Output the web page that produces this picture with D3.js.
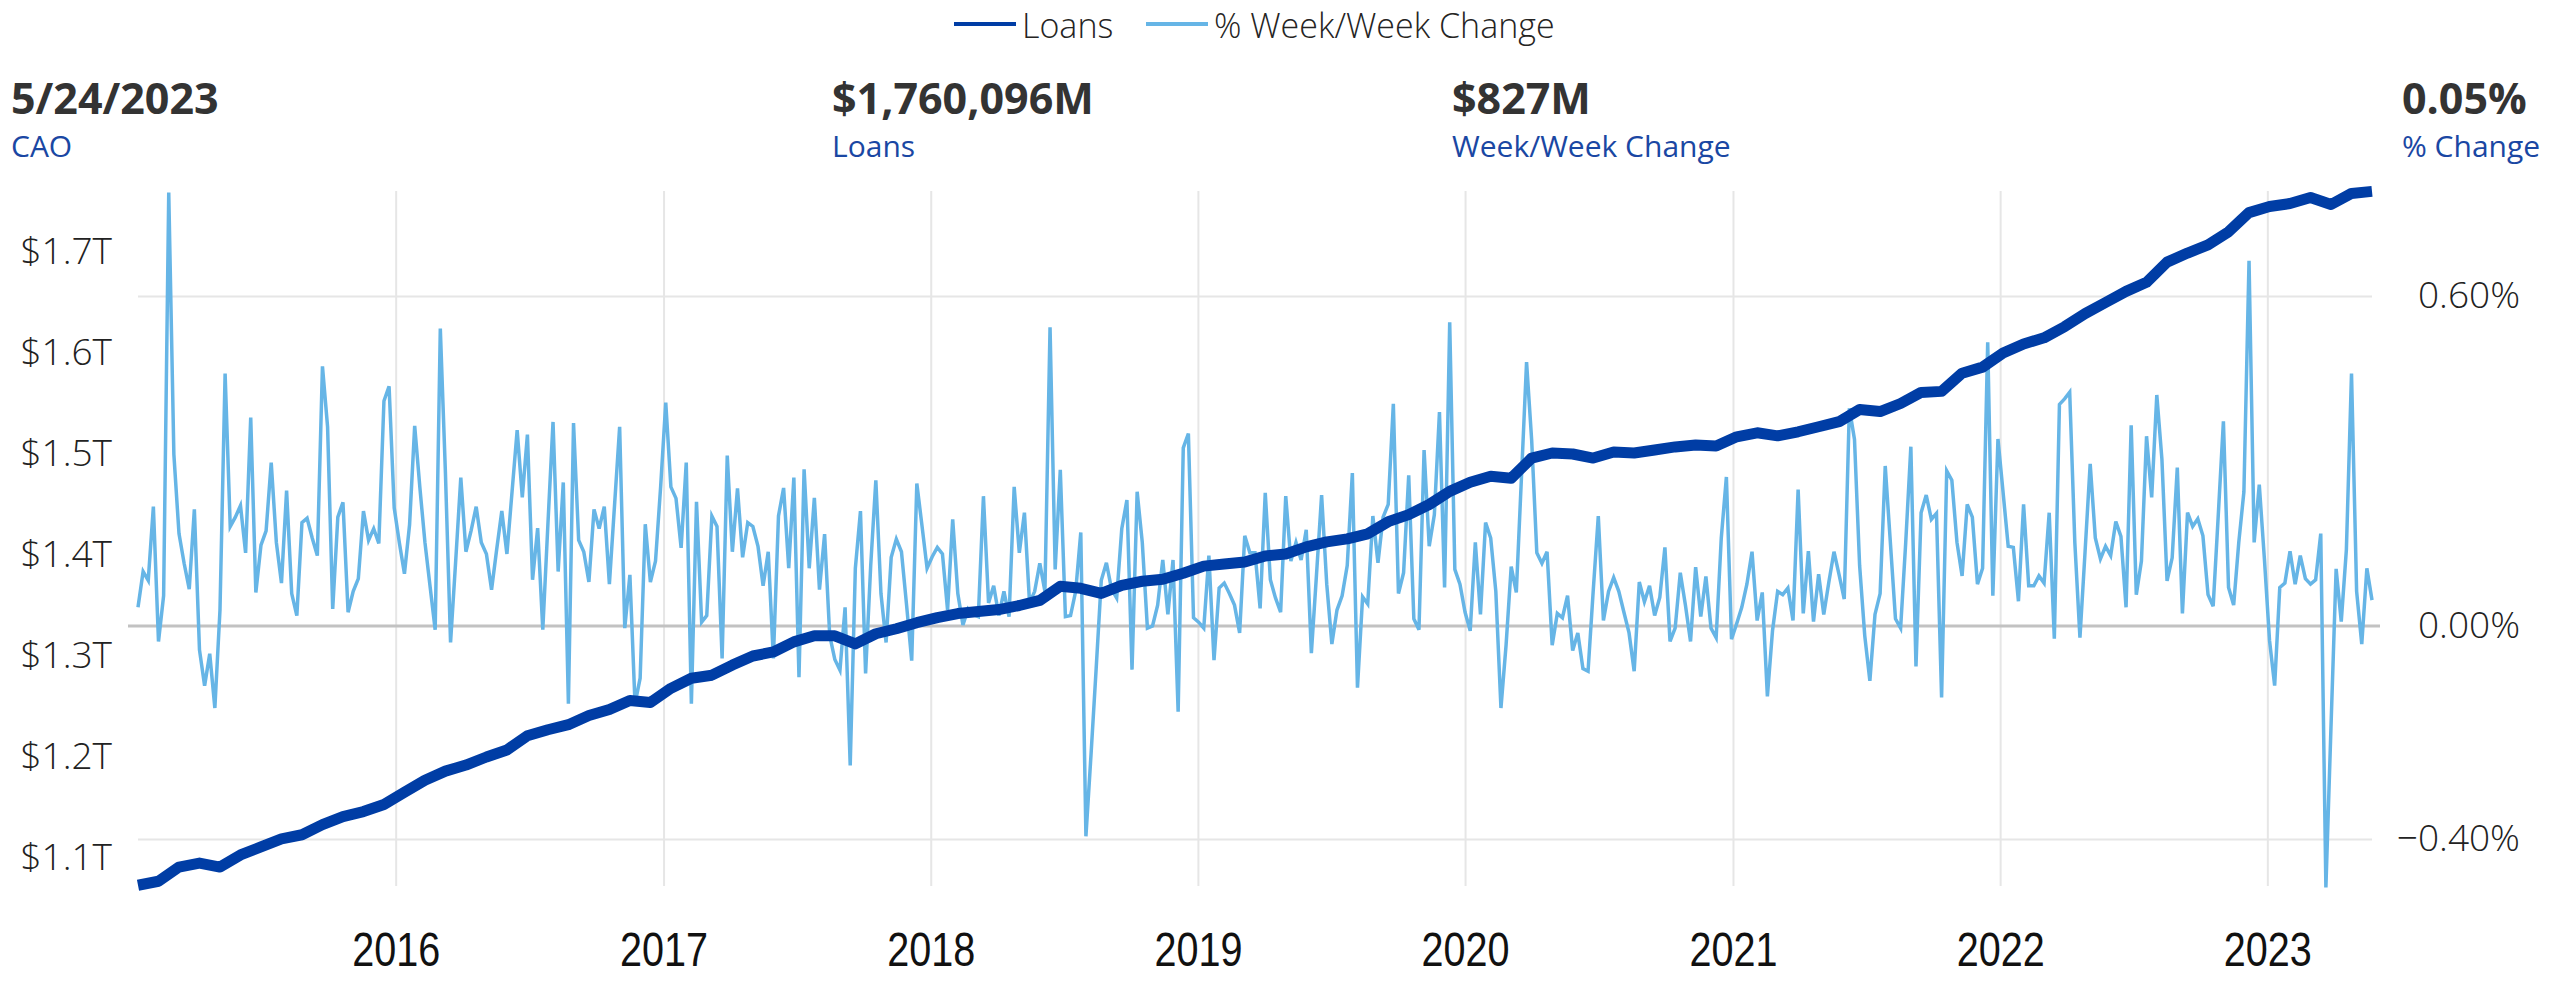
<!DOCTYPE html>
<html>
<head>
<meta charset="utf-8">
<script src="https://cdnjs.cloudflare.com/ajax/libs/d3/7.8.5/d3.min.js"></script>
<style>
  html, body { margin: 0; padding: 0; background: #fff; }
  svg { display: block; }
  .hdr-val { font-family: "Open Sans", "Segoe UI", sans-serif; font-weight: 700; font-size: 43px; fill: #333; }
  .hdr-lbl { font-family: "Open Sans", "Segoe UI", sans-serif; font-size: 30px; fill: #1a47a3; }
  .legend text { font-family: "Open Sans", "Segoe UI", sans-serif; font-weight: 300; font-size: 34px; fill: #252423; }
  .axis-y text { font-family: "Open Sans", "Segoe UI", sans-serif; font-weight: 300; font-size: 37px; fill: #222; }
  .axis-x text { font-family: "Liberation Sans Narrow", "Arial Narrow", "Liberation Sans", sans-serif; font-size: 48px; fill: #111; }
  .axis path.domain { display: none; }
</style>
</head>
<body>
<div id="chart_div"></div>
<script>
//------------------------1. PREPARATION-------------------------//
const width = 2552;
const height = 983;

const svg = d3.select("#chart_div").append("svg")
  .attr("width", width)
  .attr("height", height);

//-----------------------------DATA------------------------------//
const firstWeek = "2015-01-14";   // weekly (Wednesday) observations
const yearTicks = ["2016", "2017", "2018", "2019", "2020", "2021", "2022", "2023"];
const loanTicks = [1.1, 1.2, 1.3, 1.4, 1.5, 1.6, 1.7];
const pctTicks = [-0.4, 0, 0.6];

const headerValues = ["5/24/2023", "$1,760,096M", "$827M", "0.05%"];
const headerLabels = ["CAO", "Loans", "Week/Week Change", "% Change"];

// % week/week change, one value per week
const pctChange = [
  0.034, 0.099, 0.083, 0.217, -0.029, 0.055, 0.788, 0.312, 0.168, 0.114, 0.067, 0.212, -0.045, -0.112, -0.052, -0.154,
  0.029, 0.459, 0.181, 0.198, 0.219, 0.133, 0.379, 0.061, 0.147, 0.173, 0.297, 0.152, 0.078, 0.246, 0.059, 0.019,
  0.188, 0.196, 0.160, 0.128, 0.472, 0.362, 0.031, 0.198, 0.225, 0.025, 0.063, 0.086, 0.209, 0.156, 0.177, 0.150,
  0.409, 0.436, 0.215, 0.152, 0.095, 0.184, 0.364, 0.253, 0.152, 0.072, -0.007, 0.541, 0.278, -0.031, 0.118, 0.270,
  0.135, 0.173, 0.217, 0.152, 0.131, 0.066, 0.139, 0.209, 0.131, 0.244, 0.356, 0.234, 0.348, 0.084, 0.178, -0.007,
  0.185, 0.371, 0.099, 0.261, -0.146, 0.369, 0.156, 0.135, 0.080, 0.212, 0.177, 0.217, 0.076, 0.219, 0.362, -0.004,
  0.093, -0.146, -0.098, 0.185, 0.080, 0.118, 0.253, 0.406, 0.253, 0.232, 0.142, 0.297, -0.146, 0.226, 0.007, 0.019,
  0.200, 0.181, -0.061, 0.310, 0.135, 0.250, 0.125, 0.188, 0.181, 0.145, 0.073, 0.135, -0.061, 0.200, 0.251, 0.105,
  0.270, -0.096, 0.285, 0.105, 0.233, 0.066, 0.167, -0.018, -0.063, -0.083, 0.034, -0.262, 0.105, 0.209, -0.089, 0.110,
  0.265, 0.059, -0.031, 0.125, 0.158, 0.135, 0.038, -0.065, 0.259, 0.183, 0.105, 0.126, 0.143, 0.131, 0.029, 0.194,
  0.059, 0.002, 0.031, 0.021, 0.017, 0.236, 0.042, 0.073, 0.019, 0.063, 0.017, 0.253, 0.133, 0.206, 0.042, 0.063,
  0.114, 0.063, 0.543, 0.103, 0.284, 0.017, 0.019, 0.063, 0.170, -0.395, -0.241, -0.080, 0.083, 0.115, 0.067, 0.051,
  0.177, 0.229, -0.082, 0.244, 0.152, -0.004, 0.000, 0.038, 0.120, 0.021, 0.120, -0.161, 0.324, 0.350, 0.015, 0.007,
  -0.004, 0.128, -0.064, 0.069, 0.078, 0.059, 0.038, -0.013, 0.164, 0.133, 0.133, 0.032, 0.242, 0.084, 0.051, 0.025,
  0.236, 0.118, 0.152, 0.120, 0.175, -0.051, 0.093, 0.238, 0.076, -0.034, 0.029, 0.055, 0.110, 0.278, -0.116, 0.053,
  0.040, 0.200, 0.115, 0.198, 0.221, 0.404, 0.059, 0.097, 0.274, 0.013, -0.007, 0.320, 0.145, 0.202, 0.389, 0.070,
  0.552, 0.103, 0.076, 0.025, -0.009, 0.152, 0.021, 0.188, 0.160, 0.063, -0.154, -0.036, 0.108, 0.061, 0.270, 0.480,
  0.337, 0.133, 0.114, 0.135, -0.036, 0.023, 0.015, 0.055, -0.046, -0.013, -0.080, -0.085, 0.063, 0.200, 0.010, 0.063,
  0.088, 0.063, 0.025, -0.013, -0.085, 0.080, 0.044, 0.073, 0.019, 0.052, 0.143, -0.029, -0.004, 0.097, 0.038, -0.029,
  0.107, 0.017, 0.090, -0.004, -0.022, 0.160, 0.271, -0.025, 0.004, 0.034, 0.076, 0.135, 0.010, 0.061, -0.132, -0.009,
  0.063, 0.057, 0.069, 0.010, 0.248, 0.023, 0.136, 0.008, 0.094, 0.021, 0.080, 0.135, 0.093, 0.049, 0.396, 0.339,
  0.110, -0.018, -0.103, 0.021, 0.059, 0.291, 0.152, 0.013, -0.004, 0.152, 0.326, -0.076, 0.206, 0.238, 0.194, 0.205,
  -0.134, 0.282, 0.265, 0.152, 0.091, 0.221, 0.198, 0.076, 0.105, 0.516, 0.055, 0.340, 0.243, 0.145, 0.143, 0.045,
  0.221, 0.073, 0.073, 0.091, 0.078, 0.206, -0.024, 0.403, 0.413, 0.425, 0.152, -0.022, 0.135, 0.295, 0.160, 0.122,
  0.145, 0.128, 0.190, 0.163, 0.034, 0.365, 0.057, 0.118, 0.345, 0.234, 0.420, 0.303, 0.082, 0.124, 0.288, 0.023,
  0.206, 0.181, 0.195, 0.164, 0.057, 0.036, 0.202, 0.372, 0.070, 0.038, 0.152, 0.244, 0.664, 0.152, 0.257, 0.122,
  -0.027, -0.112, 0.070, 0.078, 0.136, 0.076, 0.128, 0.086, 0.076, 0.084, 0.168, -0.491, -0.188, 0.104, 0.008, 0.139,
  0.459, 0.063, -0.034, 0.105, 0.047
];

// loans ($T), read every 4th week
const loans = [
  1.073, 1.077, 1.091, 1.095, 1.091, 1.103, 1.111, 1.119, 1.123, 1.133, 1.141, 1.146, 1.153, 1.165, 1.177, 1.186,
  1.192, 1.200, 1.207, 1.221, 1.227, 1.232, 1.241, 1.247, 1.256, 1.254, 1.268, 1.278, 1.281, 1.291, 1.300, 1.304,
  1.314, 1.320, 1.320, 1.312, 1.322, 1.327, 1.333, 1.338, 1.342, 1.344, 1.346, 1.350, 1.355, 1.369, 1.367, 1.362,
  1.370, 1.374, 1.376, 1.382, 1.389, 1.391, 1.393, 1.399, 1.401, 1.408, 1.413, 1.416, 1.421, 1.433, 1.440, 1.450,
  1.463, 1.472, 1.478, 1.476, 1.496, 1.501, 1.500, 1.496, 1.502, 1.501, 1.504, 1.507, 1.509, 1.508, 1.517, 1.521,
  1.518, 1.522, 1.527, 1.532, 1.544, 1.542, 1.550, 1.561, 1.562, 1.580, 1.586, 1.600, 1.609, 1.615, 1.626, 1.639,
  1.650, 1.661, 1.670, 1.690, 1.699, 1.707, 1.720, 1.739, 1.745, 1.748, 1.754, 1.747, 1.758, 1.760
];

const start = d3.utcParse("%Y-%m-%d")(firstWeek);
const pctData = pctChange.map((v, i) => ({ date: d3.utcDay.offset(start, 7 * i), v }));
const loanData = loans.map((v, i) => ({ date: d3.utcDay.offset(start, 28 * i), v }));

//----------------------------SCALES-----------------------------//
const plotLeft = 138, plotRight = 2372, plotTop = 191, plotBottom = 886;

const xScale = d3.scaleUtc()
  .domain([start, pctData[pctData.length - 1].date])
  .range([plotLeft, plotRight]);

const yLoans = d3.scaleLinear().domain([1.1, 1.7]).range([858, 252]);
// right axis as drawn in the reference: gridlines at -0.4 / 0 / 0.6
const yPct = d3.scaleLinear().domain([-0.4, 0, 0.6]).range([839, 626, 296]);

//-----------------------------AXES------------------------------//
const yearDates = yearTicks.map(y => d3.utcParse("%Y")(y));

// vertical year gridlines
svg.append("g")
  .attr("class", "axis grid-x")
  .attr("transform", "translate(0," + plotBottom + ")")
  .call(d3.axisBottom(xScale).tickValues(yearDates).tickSize(-(plotBottom - plotTop)).tickFormat(""))
  .call(g => g.selectAll("line").attr("stroke", "#e6e6e6").attr("stroke-width", 2));

// horizontal gridlines at right axis ticks
svg.append("g")
  .attr("class", "axis grid-y")
  .attr("transform", "translate(" + plotRight + ",0)")
  .call(d3.axisLeft(yPct).tickValues(pctTicks.filter(d => d !== 0)).tickSize(plotRight - plotLeft).tickFormat(""))
  .call(g => g.selectAll("line").attr("stroke", "#e6e6e6").attr("stroke-width", 2));

// zero line
svg.append("line")
  .attr("x1", 128).attr("x2", 2380)
  .attr("y1", yPct(0)).attr("y2", yPct(0))
  .attr("stroke", "#c2c2c2").attr("stroke-width", 3);

// year labels (condensed face)
svg.append("g")
  .attr("class", "axis axis-x")
  .attr("transform", "translate(0,932)")
  .call(d3.axisBottom(xScale).tickValues(yearDates).tickSize(0).tickPadding(0).tickFormat(d3.utcFormat("%Y")))
  .call(g => g.selectAll("text")
    .attr("dy", "0.71em")
    .attr("textLength", 88)
    .attr("lengthAdjust", "spacingAndGlyphs"));

// left axis
svg.append("g")
  .attr("class", "axis axis-y")
  .attr("transform", "translate(112,0)")
  .call(d3.axisLeft(yLoans).tickValues(loanTicks).tickSize(0).tickPadding(0).tickFormat(d => "$" + d3.format(".1f")(d) + "T"));

// right axis
svg.append("g")
  .attr("class", "axis axis-y")
  .attr("transform", "translate(2520,0)")
  .call(d3.axisRight(yPct).tickValues(pctTicks).tickSize(0).tickPadding(0).tickFormat(d => d3.format(".2f")(d) + "%"))
  .call(g => g.selectAll("text").attr("text-anchor", "end").attr("x", 0));

//----------------------------LINES------------------------------//
const pctLine = d3.line()
  .x(d => xScale(d.date))
  .y(d => yPct(d.v));

const loanLine = d3.line()
  .x(d => xScale(d.date))
  .y(d => yLoans(d.v));

svg.append("path")
  .datum(pctData)
  .attr("fill", "none")
  .attr("stroke", "#66b5e6")
  .attr("stroke-width", 3.5)
  .attr("stroke-linejoin", "miter")
  .attr("d", pctLine);

svg.append("path")
  .datum(loanData)
  .attr("fill", "none")
  .attr("stroke", "#003da5")
  .attr("stroke-width", 11)
  .attr("stroke-linejoin", "round")
  .attr("d", loanLine);

//---------------------------HEADER------------------------------//
const hdrX = [11, 832, 1452, 2402];
const hdr = svg.append("g").attr("class", "header");
headerValues.forEach((t, i) => {
  hdr.append("text").attr("class", "hdr-val").attr("x", hdrX[i]).attr("y", 114).text(t);
  hdr.append("text").attr("class", "hdr-lbl").attr("x", hdrX[i]).attr("y", 157).text(headerLabels[i]);
});

//---------------------------LEGEND------------------------------//
const legendItems = [
  { name: "Loans", color: "#003da5", x: 954 },
  { name: "% Week/Week Change", color: "#66b5e6", x: 1146 }
];
const legend = svg.append("g").attr("class", "legend");
legendItems.forEach(it => {
  legend.append("line")
    .attr("x1", it.x).attr("x2", it.x + 62)
    .attr("y1", 24).attr("y2", 24)
    .attr("stroke", it.color).attr("stroke-width", 4);
  legend.append("text").attr("x", it.x + 68).attr("y", 38).text(it.name);
});
</script>
</body>
</html>
